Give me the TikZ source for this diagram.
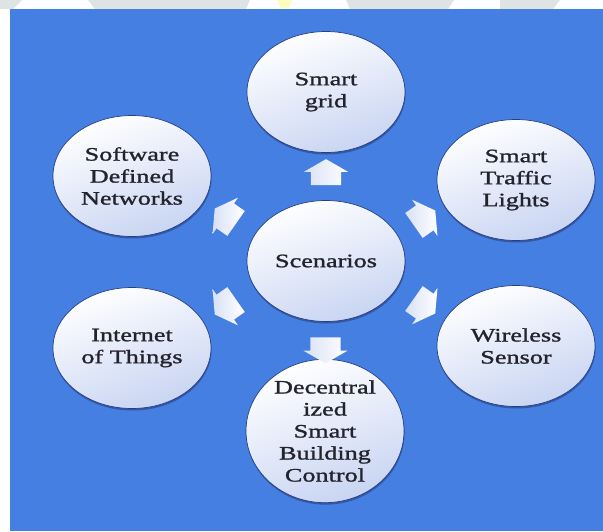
\documentclass[tikz,border=0pt]{standalone}
\usepackage{fontspec}
\setmainfont[FakeStretch=1.38, FakeBold=1.3]{Liberation Serif}
\usepackage{tikz}
\usetikzlibrary{shapes.geometric}
\usetikzlibrary{shapes.arrows}
\usetikzlibrary{shadows}
\usetikzlibrary{calc}

\definecolor{bgblue}{RGB}{69,127,225}
\definecolor{ballfill}{RGB}{200,212,242}
\definecolor{ballline}{RGB}{38,62,130}
\definecolor{txtgray}{RGB}{35,35,45}
\definecolor{markgray}{RGB}{222,227,228}

\begin{document}
\begin{tikzpicture}[x=1pt, y=-1pt,
    ball/.style={ellipse, draw=ballline, line width=0.7pt, minimum width=158pt, minimum height=121pt,
        inner sep=0pt, align=center, text=txtgray, font=\fontsize{19}{22}\selectfont,
        top color=white, bottom color=ballfill, shading angle=20,
        drop shadow={shadow xshift=0.5pt, shadow yshift=-2pt, fill=ballline, opacity=0.6}},
    blockarrow/.style={single arrow, draw=none, minimum height=26pt, minimum width=0pt,
        inner xsep=0pt, inner ysep=15pt, single arrow head extend=7pt, single arrow tip angle=120,
        left color=ballfill!70, right color=white}]

    % Background
    \fill[white] (0,0) rectangle (603,531);
    \fill[markgray] (0,0) -- (22,0) -- (13,9) -- (0,9) -- cycle;
    \fill[markgray] (88,0) -- (250,0) -- (246,9) -- (95,9) -- cycle;
    \fill[yellow!25] (277,0) -- (292,0) -- (288,9) -- (281,9) -- cycle;
    \fill[markgray] (346,0) -- (454,0) -- (448,9) -- (350,9) -- cycle;
    \fill[markgray] (500,0) -- (560,0) -- (553,9) -- (500,9) -- cycle;
    \fill[bgblue] (10,9) rectangle (603,531);

    % Nodes
    \node at (326,261) (scen) [ball] {Scenarios};
    \node at (326,92) (grid) [ball] {Smart\\grid};
    \node at (132,176) (sdn) [ball] {Software\\Defined\\Networks};
    \node at (516,180) (stl) [ball] {Smart\\Traffic\\Lights};
    \node at (132,348) (iot) [ball] {Internet\\of Things};
    \node at (516,346) (wsn) [ball] {Wireless\\Sensor};
    \node at (325,431) (dsbc) [ball] {Decentral\\ized\\Smart\\Building\\Control};

    % Arrows
    \node at ($(scen)!0.5!(grid)$) (toGrid) [blockarrow, rotate=90] {};
    \node at ($(scen)!0.5!(dsbc)$) (toDsbc) [blockarrow, rotate=270] {};
    \node at ($(scen)!0.5!(sdn)$) (toSdn) [blockarrow, rotate=145] {};
    \node at ($(scen)!0.5!(iot)$) (toIot) [blockarrow, rotate=215] {};
    \node at ($(scen)!0.5!(stl)$) (toStl) [blockarrow, rotate=35] {};
    \node at ($(scen)!0.5!(wsn)$) (toWsn) [blockarrow, rotate=325] {};

\end{tikzpicture}
\end{document}
